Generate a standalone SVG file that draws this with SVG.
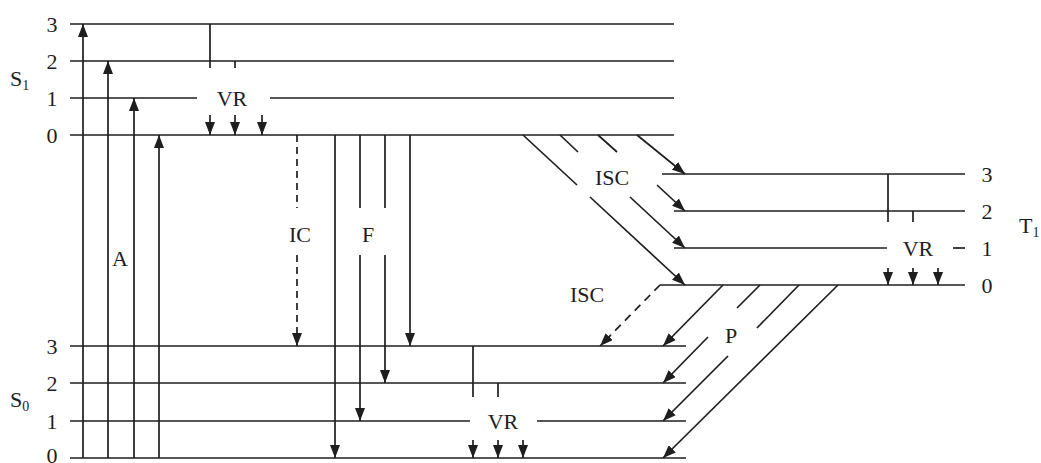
<svg xmlns="http://www.w3.org/2000/svg" width="1041" height="463" viewBox="0 0 1041 463">
<defs>
<style>
.lv{stroke:#1e1e1e;stroke-width:1.7;fill:none}
.c{stroke:#1e1e1e;stroke-width:1.7;fill:none}
.ca{stroke:#1e1e1e;stroke-width:1.7;fill:none;marker-end:url(#ah)}
.d{stroke-dasharray:7,5}
text{font-family:"Liberation Serif","Times New Roman",serif;font-size:22px;fill:#1e1e1e}
.m{text-anchor:middle}
.sub{font-size:14px}
</style>
<marker id="ah" viewBox="0 0 13 10" refX="13" refY="5" markerWidth="13" markerHeight="10" markerUnits="userSpaceOnUse" orient="auto">
<path d="M0,0 L13,5 L0,10 z" fill="#1e1e1e"/>
</marker>
</defs>
<rect width="1041" height="463" fill="#ffffff"/>

<g id="S1">
<line class="lv" x1="70" y1="24" x2="674" y2="24"/>
<line class="lv" x1="70" y1="61" x2="674" y2="61"/>
<line class="lv" x1="70" y1="98" x2="197" y2="98"/>
<line class="lv" x1="270" y1="98" x2="674" y2="98"/>
<line class="lv" x1="70" y1="135" x2="674" y2="135"/>
<text class="m" x="52" y="32">3</text>
<text class="m" x="52" y="69">2</text>
<text class="m" x="52" y="106">1</text>
<text class="m" x="52" y="143">0</text>
<text x="10" y="86">S<tspan class="sub" dy="4">1</tspan></text>
</g>

<g id="S0">
<line class="lv" x1="70" y1="346" x2="686" y2="346"/>
<line class="lv" x1="70" y1="383" x2="686" y2="383"/>
<line class="lv" x1="70" y1="421" x2="470" y2="421"/>
<line class="lv" x1="537" y1="421" x2="686" y2="421"/>
<line class="lv" x1="70" y1="458" x2="686" y2="458"/>
<text class="m" x="52" y="354">3</text>
<text class="m" x="52" y="391">2</text>
<text class="m" x="52" y="429">1</text>
<text class="m" x="52" y="463">0</text>
<text x="10" y="407">S<tspan class="sub" dy="4">0</tspan></text>
</g>

<g id="T1">
<line class="lv" x1="662" y1="174" x2="965" y2="174"/>
<line class="lv" x1="674" y1="211" x2="965" y2="211"/>
<line class="lv" x1="674" y1="248" x2="887" y2="248"/>
<line class="lv" x1="953" y1="248" x2="965" y2="248"/>
<line class="lv" x1="660" y1="285" x2="965" y2="285"/>
<text class="m" x="987" y="182">3</text>
<text class="m" x="987" y="219">2</text>
<text class="m" x="987" y="256">1</text>
<text class="m" x="987" y="293">0</text>
<text x="1019" y="233">T<tspan class="sub" dy="4">1</tspan></text>
</g>

<g id="connectors">
<line class="ca" x1="83" y1="458" x2="83" y2="24"/>
<line class="ca" x1="108" y1="458" x2="108" y2="61"/>
<line class="ca" x1="134" y1="458" x2="134" y2="98"/>
<line class="ca" x1="159" y1="458" x2="159" y2="135"/>
<line class="c" x1="210" y1="24" x2="210" y2="68"/>
<line class="c" x1="235" y1="61" x2="235" y2="68"/>
<line class="ca" x1="210" y1="115" x2="210" y2="135"/>
<line class="ca" x1="235" y1="115" x2="235" y2="135"/>
<line class="ca" x1="262" y1="115" x2="262" y2="135"/>
<line class="c d" x1="297" y1="135" x2="297" y2="208"/>
<line class="ca d" x1="297" y1="255" x2="297" y2="346"/>
<line class="ca" x1="335" y1="135" x2="335" y2="458"/>
<line class="c" x1="360" y1="135" x2="360" y2="208"/>
<line class="ca" x1="360" y1="255" x2="360" y2="421"/>
<line class="c" x1="385" y1="135" x2="385" y2="208"/>
<line class="ca" x1="385" y1="255" x2="385" y2="383"/>
<line class="ca" x1="410" y1="135" x2="410" y2="346"/>
<line class="c" x1="473" y1="346" x2="473" y2="397"/>
<line class="c" x1="498" y1="383" x2="498" y2="397"/>
<line class="ca" x1="473" y1="440" x2="473" y2="458"/>
<line class="ca" x1="498" y1="440" x2="498" y2="458"/>
<line class="ca" x1="523" y1="440" x2="523" y2="458"/>
<line class="c" x1="523" y1="135" x2="577" y2="185"/>
<line class="ca" x1="590" y1="197" x2="685" y2="285"/>
<line class="c" x1="560" y1="135" x2="578" y2="152"/>
<line class="ca" x1="630" y1="197" x2="685" y2="248"/>
<line class="c" x1="598" y1="135" x2="617" y2="152"/>
<line class="ca" x1="657" y1="185" x2="685" y2="211"/>
<line class="ca" x1="637" y1="135" x2="685" y2="174"/>
<line class="ca" x1="660" y1="285" x2="600" y2="346" stroke-dasharray="8,6"/>
<line class="c" x1="888" y1="174" x2="888" y2="222"/>
<line class="c" x1="913" y1="211" x2="913" y2="222"/>
<line class="ca" x1="888" y1="268" x2="888" y2="285"/>
<line class="ca" x1="913" y1="268" x2="913" y2="285"/>
<line class="ca" x1="938" y1="268" x2="938" y2="285"/>
<line class="ca" x1="723" y1="285" x2="663" y2="346"/>
<line class="c" x1="760" y1="285" x2="737" y2="308"/>
<line class="ca" x1="708" y1="337" x2="663" y2="383"/>
<line class="c" x1="799" y1="285" x2="757" y2="328"/>
<line class="ca" x1="728" y1="356" x2="663" y2="421"/>
<line class="ca" x1="838" y1="285" x2="663" y2="458"/>
</g>

<g id="labels">
<text class="m" x="120" y="266">A</text>
<text class="m" x="232" y="106">VR</text>
<text class="m" x="300" y="242">IC</text>
<text class="m" x="368" y="242">F</text>
<text class="m" x="503" y="429">VR</text>
<text class="m" x="612" y="185">ISC</text>
<text class="m" x="587" y="302">ISC</text>
<text class="m" x="918" y="256">VR</text>
<text class="m" x="731" y="343">P</text>
</g>
</svg>
